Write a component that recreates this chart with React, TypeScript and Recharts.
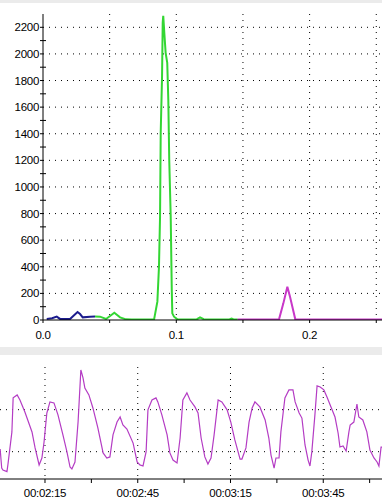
import { LineChart, Line, XAxis, YAxis, CartesianGrid } from 'recharts';

// upper trace: retention-like x (0..0.25), signal height
const blueTrace = [
  [0.0028, 8], [0.0068, 13], [0.0103, 25], [0.0128, 8], [0.0203, 8], [0.0227, 30],
  [0.0259, 60], [0.0278, 45], [0.0298, 20], [0.0353, 25], [0.039, 26],
];
const greenTrace = [
  [0.039, 26], [0.0428, 25], [0.0473, 8], [0.0503, 30], [0.0535, 55], [0.0578, 20],
  [0.0623, 5], [0.0665, 3], [0.0833, 3], [0.0858, 138], [0.087, 400], [0.0878, 777],
  [0.0883, 1406], [0.0893, 1829], [0.0898, 2233], [0.0902, 2286], [0.091, 2158],
  [0.092, 2008], [0.0932, 1932], [0.094, 1654], [0.0947, 1203], [0.0958, 777],
  [0.0966, 226], [0.097, 50], [0.0983, 25], [0.1008, 5], [0.112, 3], [0.1155, 6],
  [0.1178, 20], [0.1205, 6], [0.138, 3], [0.14, 6], [0.1415, 10], [0.143, 4], [0.146, 3],
];
const magentaTrace = [
  [0.146, 3], [0.177, 3], [0.1803, 125], [0.1833, 250], [0.1853, 175], [0.1893, 3], [0.2543, 3],
];
const peakTicksX = [0, 0.05, 0.1, 0.15, 0.2, 0.25];
const peakTicksY = [0, 100, 200, 300, 400, 500, 600, 700, 800, 900, 1000, 1100, 1200, 1300,
  1400, 1500, 1600, 1700, 1800, 1900, 2000, 2100, 2200];
const peakGridY = [200, 400, 600, 800, 1000, 1200, 1400, 1600, 1800, 2000, 2200];

// lower trace: seconds, level
const waveTrace = [
  [120.5, 21.3], [121.0, 12.2], [121.4, 11.3], [122.7, 10.5], [123.0, 13.7], [124.3, 29.4],
  [124.7, 45.6], [126.0, 47], [126.9, 44.6], [128.5, 38.9], [130.8, 29.4], [131.8, 21.8],
  [133.1, 13.7], [134.0, 17], [134.7, 24.6], [135.6, 38.4], [136.6, 43.7], [137.9, 43.2],
  [139.2, 37.5], [140.8, 28], [142.1, 19.9], [143.1, 12.7], [143.7, 11.8], [144.7, 15.1],
  [145.7, 34.1], [146.6, 58.9], [147.3, 55.1], [147.9, 50.3], [149.2, 47], [150.5, 40.8],
  [152.1, 31.3], [153.8, 19.4], [155.0, 17], [156.0, 17.5], [157.0, 28], [158.3, 34.1],
  [159.3, 36.5], [160.2, 32.7], [161.5, 30.8], [163.5, 24.1], [164.8, 15.1], [165.7, 13.7],
  [166.7, 13.2], [167.7, 19.9], [168.3, 39.9], [169.6, 44.6], [170.9, 45.6], [171.5, 43.7],
  [172.8, 37.5], [174.5, 28], [175.4, 19.4], [176.4, 16], [177.7, 14.6], [178.7, 26.5],
  [179.6, 44.6], [180.9, 48], [181.9, 44.6], [183.5, 41.3], [184.5, 38.4], [185.5, 26.5],
  [186.7, 17.5], [187.7, 14.1], [188.7, 17], [189.7, 28], [191.0, 44.6], [192.2, 43.7],
  [193.9, 39.9], [195.1, 34.1], [196.4, 25.6], [198.1, 16.5], [198.7, 16.5], [200.0, 21.8],
  [201.0, 34.1], [202.0, 40.8], [202.9, 43.7], [204.5, 41.3], [206.2, 35.1], [207.4, 26.5],
  [208.1, 18.4], [209.1, 12.2], [209.7, 17], [210.7, 17], [211.3, 29.4], [212.6, 45.6],
  [213.9, 49.4], [215.2, 49.4], [215.9, 43.7], [217.2, 38.4], [218.1, 36], [219.1, 23.2],
  [220.1, 16], [220.7, 13.2], [221.3, 19.9], [222.3, 37.5], [223.0, 51.3], [224.0, 50.8],
  [225.2, 49.4], [226.2, 46], [227.5, 41.3], [228.8, 36.5], [229.8, 28.9], [230.4, 22.2],
  [231.4, 22.7], [232.4, 20.3], [233.3, 29.4], [233.7, 32.7], [234.9, 34.1], [235.9, 42.7],
  [236.5, 36.5], [237.8, 35.1], [239.1, 29.4], [240.1, 20.8], [241.4, 17], [242.4, 15.1],
  [243.0, 13.2], [243.7, 22.2], [244.0, 22.2],
];
const timeTicks = [135, 150, 165, 180, 195, 210, 225, 240];
const timeGrid = [135, 165, 195, 225];
const levelGrid = [20, 40];

const toRows = (pts: number[][]) => pts.map(([x, y]) => ({ x, y }));

const font = { fontFamily: '"Liberation Sans", Arial, sans-serif', fontSize: 11.5, letterSpacing: -0.3 };

function formatClock(sec: number): string {
  const s = Math.round(sec);
  const pad = (n: number) => String(n).padStart(2, '0');
  return pad(Math.floor(s / 3600)) + ':' + pad(Math.floor((s % 3600) / 60)) + ':' + pad(s % 60);
}

function LeftTick(props: any) {
  const { x, y, payload } = props;
  if (payload.value % 200 === 0) {
    return (
      <text x={x} y={y} dy="0.355em" textAnchor="end" fill="#000" style={font}>
        {payload.value}
      </text>
    );
  }
  // minor tick crosses the axis
  return <line x1={x + 4} x2={x + 7} y1={y} y2={y} stroke="#000" />;
}

export default function App() {
  return (
    <div style={{ position: 'fixed', left: 0, top: 0, width: 382, height: 504, background: '#fff', overflow: 'hidden' }}>
      <div style={{ position: 'absolute', left: 0, top: 0, width: 382, height: 3, background: '#ebebeb' }} />
      <div style={{ position: 'absolute', left: 0, top: 347, width: 382, height: 8, background: '#ebebeb' }} />

      <div style={{ position: 'absolute', left: 0, top: 0 }}>
        <LineChart width={382} height={345} margin={{ top: 14, right: 0, bottom: 0, left: 0 }}>
          <CartesianGrid
            stroke="#000"
            strokeDasharray="1 5"
            horizontalValues={peakGridY}
            verticalValues={[0.05, 0.1, 0.15, 0.2, 0.25]}
          />
          <XAxis
            type="number"
            dataKey="x"
            domain={[0, 0.2543]}
            allowDataOverflow
            ticks={peakTicksX}
            interval={0}
            height={25}
            tickSize={3}
            tickMargin={8}
            stroke="#000"
            tick={{ fill: '#000', ...font }}
            tickFormatter={(v: number) => (Math.round(v * 100) % 10 === 0 ? v.toFixed(1) : '')}
          />
          <YAxis
            type="number"
            dataKey="y"
            width={43}
            domain={[0, 2300]}
            allowDataOverflow
            ticks={peakTicksY}
            interval={0}
            tickSize={3}
            tickMargin={1}
            stroke="#000"
            tick={(p: any) => <LeftTick {...p} />}
          />
          <Line data={toRows(blueTrace)} dataKey="y" type="linear" stroke="#1c1c8e" strokeWidth={2} dot={false} isAnimationActive={false} />
          <Line data={toRows(greenTrace)} dataKey="y" type="linear" stroke="#33d633" strokeWidth={2} dot={false} isAnimationActive={false} />
          <Line data={toRows(magentaTrace)} dataKey="y" type="linear" stroke="#c838c8" strokeWidth={2} dot={false} isAnimationActive={false} />
        </LineChart>
      </div>

      <div style={{ position: 'absolute', left: 0, top: 355 }}>
        <LineChart width={382} height={149} margin={{ top: 12, right: 0, bottom: 0, left: 0 }}>
          <CartesianGrid
            stroke="#000"
            strokeDasharray="1 5"
            horizontalValues={levelGrid}
            verticalValues={timeGrid}
          />
          <XAxis
            type="number"
            dataKey="x"
            domain={[120.45, 244]}
            allowDataOverflow
            ticks={timeTicks}
            interval={0}
            height={25}
            tickSize={4}
            tickMargin={6}
            stroke="#000"
            tick={{ fill: '#000', ...font }}
            tickFormatter={(v: number) => ((v - 135) % 30 === 0 ? formatClock(v) : '')}
          />
          <YAxis type="number" dataKey="y" hide domain={[7, 60.3]} allowDataOverflow />
          <Line data={toRows(waveTrace)} dataKey="y" type="linear" stroke="#b43cc4" strokeWidth={1.2} dot={false} isAnimationActive={false} />
        </LineChart>
      </div>
    </div>
  );
}
